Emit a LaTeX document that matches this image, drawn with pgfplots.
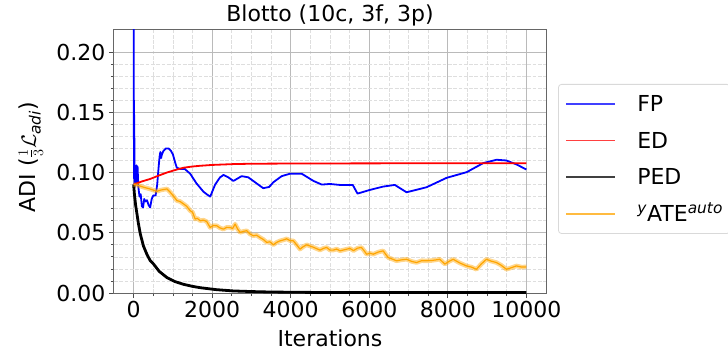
\documentclass[border=0pt]{standalone}
\usepackage{fontspec}
\setmainfont{DejaVu Sans}
\usepackage{pgfplots}
\usepackage{pgfplotstable}
\pgfplotsset{compat=1.18}

\newcommand\plotfont{\fontsize{22bp}{26bp}\selectfont}

\definecolor{fpblue}{RGB}{0,0,255}
\definecolor{edred}{RGB}{255,0,0}
\definecolor{ateorange}{RGB}{255,165,0}

% fictitious play
\pgfplotstableread{
it val
0 0.300
8 0.095
15 0.148
25 0.088
40 0.104
55 0.090
70 0.106
85 0.092
100 0.105
120 0.088
150 0.080
180 0.082
210 0.072
240 0.071
270 0.078
300 0.076
340 0.077
380 0.073
420 0.071
460 0.078
500 0.081
560 0.081
600 0.090
635 0.104
660 0.113
680 0.117
700 0.112
720 0.115
760 0.118
820 0.120
890 0.120
950 0.118
1000 0.115
1060 0.108
1100 0.104
1180 0.103
1300 0.103
1440 0.099
1600 0.091
1780 0.084
1860 0.082
1950 0.080
2075 0.090
2200 0.096
2290 0.098
2410 0.096
2540 0.093
2750 0.097
2920 0.096
3130 0.091
3300 0.087
3450 0.088
3560 0.092
3770 0.097
3980 0.099
4280 0.099
4580 0.093
4790 0.090
5000 0.0905
5250 0.0897
5580 0.0897
5700 0.0825
6020 0.0856
6350 0.0883
6650 0.0897
6950 0.0836
7460 0.0878
7970 0.0956
8480 0.1003
8900 0.1078
9240 0.1106
9490 0.1100
9750 0.1067
10000 0.1025
}\fpdata

% entropic dynamics
\pgfplotstableread{
it val
0 0.0900
200 0.0925
424 0.0947
600 0.0970
848 0.1000
1050 0.1020
1271 0.1040
1500 0.1050
1695 0.1056
2000 0.1063
2541 0.1070
3000 0.1073
4236 0.1075
6000 0.1076
8000 0.1077
10000 0.1077
}\eddata

% perturbed entropic dynamics
\pgfplotstableread{
it val
0 0.0900
20 0.0820
50 0.0730
85 0.0656
120 0.0580
170 0.0490
250 0.0390
339 0.0320
420 0.0270
508 0.0240
650 0.0180
848 0.0128
1050 0.0095
1271 0.0072
1500 0.0055
1695 0.0044
2100 0.0028
2541 0.0017
3000 0.0012
3500 0.0008
4500 0.0005
6000 0.0004
8000 0.0003
10000 0.0003
}\peddata

% yATE auto
\pgfplotstableread{
it val
0 0.0900
100 0.0895
254 0.0878
400 0.0865
593 0.0844
700 0.0855
848 0.0864
932 0.0836
1000 0.0810
1101 0.0767
1180 0.0760
1271 0.0739
1350 0.0720
1440 0.0683
1500 0.0670
1567 0.0614
1620 0.0620
1695 0.0600
1780 0.0605
1864 0.0592
1948 0.0544
2030 0.0560
2118 0.0558
2200 0.0540
2287 0.0530
2370 0.0545
2457 0.0544
2520 0.0535
2584 0.0572
2650 0.0530
2711 0.0503
2800 0.0512
2880 0.0517
2960 0.0490
3050 0.0475
3130 0.0480
3219 0.0460
3300 0.0445
3389 0.0420
3470 0.0425
3558 0.0400
3640 0.0420
3728 0.0433
3810 0.0440
3897 0.0450
3980 0.0435
4067 0.0433
4150 0.0400
4236 0.0364
4320 0.0385
4406 0.0400
4490 0.0390
4575 0.0380
4660 0.0368
4745 0.0356
4830 0.0370
4914 0.0378
5000 0.0356
5084 0.0356
5170 0.0365
5253 0.0350
5380 0.0360
5508 0.0370
5600 0.0352
5700 0.0372
5800 0.0378
5870 0.0350
5932 0.0322
6020 0.0330
6102 0.0322
6230 0.0340
6355 0.0350
6420 0.0320
6483 0.0294
6600 0.0280
6695 0.0267
6820 0.0275
6949 0.0280
7080 0.0262
7203 0.0253
7330 0.0268
7457 0.0267
7600 0.0270
7796 0.0280
7860 0.0260
7923 0.0240
8030 0.0262
8136 0.0280
8300 0.0250
8475 0.0225
8600 0.0215
8729 0.0197
8850 0.0240
8983 0.0280
9100 0.0265
9237 0.0253
9360 0.0230
9492 0.0197
9620 0.0210
9746 0.0225
9880 0.0215
10000 0.0217
}\atedata

\begin{document}
\begin{tikzpicture}
\begin{axis}[
  name=ax,
  width=432bp, height=263bp, scale only axis,
  xmin=-500, xmax=10500, ymin=0, ymax=0.2183,
  xtick={0,2000,4000,6000,8000,10000},
  ytick={0,0.05,0.10,0.15,0.20},
  minor x tick num=3, minor y tick num=4,
  grid=both,
  major grid style={draw=black!27, line width=0.9bp},
  minor grid style={draw=black!13, dash pattern=on 3.7bp off 1.6bp, line width=0.7bp},
  tick align=outside, xtick pos=bottom, ytick pos=left,
  major tick length=5bp, minor tick length=3bp,
  every tick/.style={black!70, line width=0.8bp},
  axis line style={black!60, line width=1bp},
  /pgf/number format/assume math mode=true,
  scaled x ticks=false, scaled y ticks=false,
  xticklabel style={/pgf/number format/1000 sep={}},
  yticklabel style={/pgf/number format/fixed, /pgf/number format/precision=2,
    /pgf/number format/fixed zerofill},
  ticklabel style={font=\plotfont},
  title={Blotto (10c, 3f, 3p)},
  title style={font=\plotfont, at={(axis description cs:0.5,1)}, anchor=base, yshift=2.5bp},
  xlabel={Iterations},
  xlabel style={font=\plotfont, at={(axis description cs:0.5,0)}, anchor=base, yshift=-53.5bp},
  ylabel={ADI ($\frac{1}{3}\mathcal{L}_{\mathit{adi}}$)},
  ylabel style={font=\plotfont, at={(axis description cs:-0.1806,0.517)}, anchor=base},
  legend cell align=left,
  legend image code/.code={\draw[#1] (0bp,0bp) -- (49bp,0bp);},
  legend style={at={(axis description cs:1.028,0.7947)}, anchor=north west,
    draw=black!15, line width=0.8bp, rounded corners=3bp, font=\plotfont,
    inner xsep=7bp, inner ysep=10bp, column sep=21bp, row sep=17.7bp,
    nodes={inner sep=0pt, text height=17bp, text depth=2bp}},
]
\addplot[fpblue, line width=1.8bp, line join=round,
  legend image post style={draw=fpblue!75}] table[x=it, y=val] {\fpdata};
\addlegendentry{FP}
\addplot[edred, line width=1.8bp,
  legend image post style={draw=edred!75}] table[x=it, y=val] {\eddata};
\addlegendentry{ED}
\addplot[black, line width=2.8bp, line join=round,
  legend image post style={line width=1.8bp, draw=black!75}] table[x=it, y=val] {\peddata};
\addlegendentry{PED}
\addplot[ateorange, opacity=0.45, line width=4.5bp, line join=round, forget plot] table[x=it, y=val] {\atedata};
\addplot[ateorange, line width=1.2bp, line join=round,
  legend image post style={draw=ateorange!75}] table[x=it, y=val] {\atedata};
\addlegendentry{\textsuperscript{\textit{y}}ATE\textsuperscript{\textit{auto}}}
\end{axis}
\pgfresetboundingbox
\path (ax.south west) ++(-114bp,-63bp) rectangle ++(728bp,356bp);
\end{tikzpicture}
\end{document}
